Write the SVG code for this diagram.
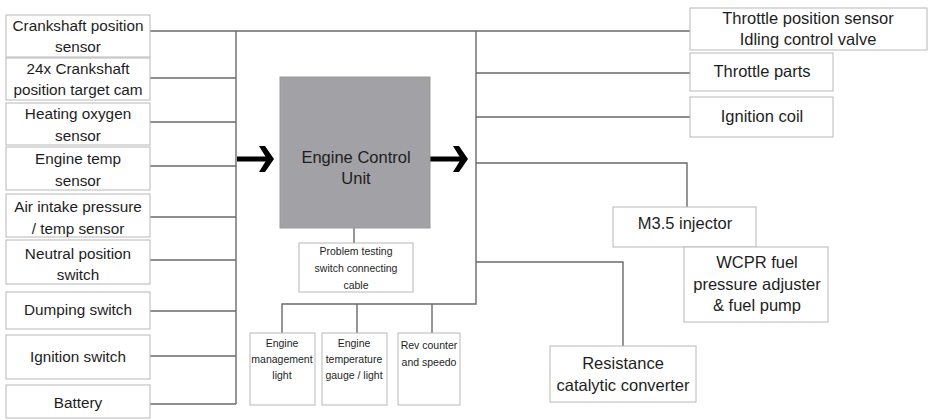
<svg xmlns="http://www.w3.org/2000/svg" width="930" height="420" viewBox="0 0 930 420">
<style>
.box{fill:#fff;stroke:#b8b8b8;stroke-width:1}
.t{font-family:"Liberation Sans",Arial,sans-serif;fill:#1e1e1e;text-anchor:middle;dominant-baseline:central}
.l{font-size:15.3px}
.r{font-size:16.5px}
.s{font-size:10.5px}
.c{fill:none;stroke:#6a6a6a;stroke-width:1.4}
.ecu{fill:#a2a1a5;stroke:#9a9a9a}
.arrow{stroke:#000;stroke-width:5;fill:none}
</style>
<defs>
<marker id="ah" viewBox="0 0 15 26" refX="13" refY="13" markerWidth="15" markerHeight="26" markerUnits="userSpaceOnUse" orient="auto">
<path d="M0,0 L6,0 L15,13 L6,26 L0,26 L8,13 Z" fill="#000"/>
</marker>
</defs>

<g id="connectors">
<path class="c" d="M150,31 H690"/>
<path class="c" d="M236,31 V404"/>
<path class="c" d="M150,78 H236 M150,122 H236 M150,166 H236 M150,217 H236 M150,260 H236 M150,311 H236 M150,356 H236 M150,404 H236"/>
<path class="c" d="M476,31 V304 H282 V333 M357,304 V333 M432,304 V333"/>
<path class="c" d="M476,73 H690 M476,117 H690"/>
<path class="c" d="M476,163 H687 V207"/>
<path class="c" d="M476,262 H623 V346"/>
<path class="c" d="M354,228 V243"/>
<line class="arrow" x1="237" y1="159" x2="272" y2="159" marker-end="url(#ah)"/>
<line class="arrow" x1="429" y1="159" x2="466" y2="159" marker-end="url(#ah)"/>
</g>

<g id="n-crank">
<rect class="box" x="6" y="15" width="144" height="42"/>
<text class="t l" x="78" y="25">Crankshaft position</text>
<text class="t l" x="78" y="46">sensor</text>
</g>
<g id="n-24x">
<rect class="box" x="6" y="58" width="144" height="42"/>
<text class="t l" x="78" y="68">24x Crankshaft</text>
<text class="t l" x="78" y="89">position target cam</text>
</g>
<g id="n-oxygen">
<rect class="box" x="6" y="103" width="144" height="42"/>
<text class="t l" x="78" y="113">Heating oxygen</text>
<text class="t l" x="78" y="135">sensor</text>
</g>
<g id="n-enginetemp">
<rect class="box" x="6" y="147" width="144" height="43"/>
<text class="t l" x="78" y="158">Engine temp</text>
<text class="t l" x="78" y="180">sensor</text>
</g>
<g id="n-airintake">
<rect class="box" x="6" y="194" width="144" height="43"/>
<text class="t l" x="78" y="206">Air intake pressure</text>
<text class="t l" x="78" y="228">/ temp sensor</text>
</g>
<g id="n-neutral">
<rect class="box" x="6" y="240" width="144" height="44"/>
<text class="t l" x="78" y="253">Neutral position</text>
<text class="t l" x="78" y="274">switch</text>
</g>
<g id="n-dumping">
<rect class="box" x="6" y="292" width="144" height="37"/>
<text class="t l" x="78" y="309">Dumping switch</text>
</g>
<g id="n-ignsw">
<rect class="box" x="6" y="335" width="144" height="44"/>
<text class="t l" x="78" y="356">Ignition switch</text>
</g>
<g id="n-battery">
<rect class="box" x="6" y="385" width="144" height="33"/>
<text class="t l" x="78" y="402">Battery</text>
</g>

<g id="n-ecu">
<rect class="ecu" x="280" y="77" width="150" height="151"/>
<text class="t r" x="356" y="157" fill="#2a2a2a">Engine Control</text>
<text class="t r" x="356" y="178" fill="#2a2a2a">Unit</text>
</g>
<g id="n-problem">
<rect class="box" x="299" y="243" width="114" height="49"/>
<text class="t s" x="356" y="251">Problem testing</text>
<text class="t s" x="356" y="268">switch connecting</text>
<text class="t s" x="356" y="285">cable</text>
</g>

<g id="n-eml">
<rect class="box" x="250" y="333" width="65" height="72"/>
<text class="t s" x="282" y="343">Engine</text>
<text class="t s" x="282" y="359">management</text>
<text class="t s" x="282" y="375">light</text>
</g>
<g id="n-etg">
<rect class="box" x="322" y="333" width="65" height="72"/>
<text class="t s" x="354" y="343">Engine</text>
<text class="t s" x="354" y="359">temperature</text>
<text class="t s" x="354" y="375">gauge / light</text>
</g>
<g id="n-rev">
<rect class="box" x="398" y="333" width="62" height="72"/>
<text class="t s" x="429" y="345">Rev counter</text>
<text class="t s" x="429" y="362">and speedo</text>
</g>

<g id="n-tps">
<rect class="box" x="690" y="8" width="237" height="42"/>
<text class="t r" x="808" y="18">Throttle position sensor</text>
<text class="t r" x="808" y="39">Idling control valve</text>
</g>
<g id="n-throttle">
<rect class="box" x="690" y="53" width="143" height="38"/>
<text class="t r" x="762" y="71">Throttle parts</text>
</g>
<g id="n-coil">
<rect class="box" x="690" y="97" width="143" height="40"/>
<text class="t r" x="762" y="116">Ignition coil</text>
</g>
<g id="n-injector">
<rect class="box" x="613" y="207" width="143" height="40"/>
<text class="t r" x="685" y="223">M3.5 injector</text>
</g>
<g id="n-wcpr">
<rect class="box" x="684" y="247" width="144" height="75"/>
<text class="t r" x="757" y="262">WCPR fuel</text>
<text class="t r" x="757" y="284">pressure adjuster</text>
<text class="t r" x="757" y="305">&amp; fuel pump</text>
</g>
<g id="n-resistance">
<rect class="box" x="550" y="346" width="146" height="56"/>
<text class="t r" x="623" y="363">Resistance</text>
<text class="t r" x="623" y="385">catalytic converter</text>
</g>
</svg>
